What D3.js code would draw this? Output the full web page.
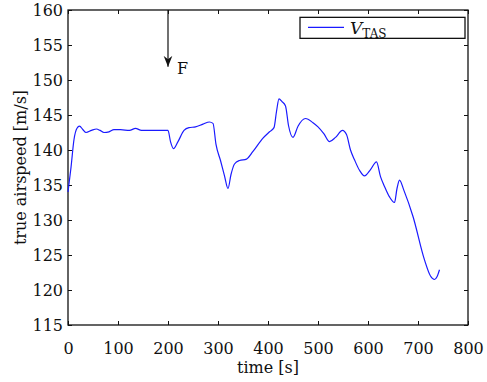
<!DOCTYPE html>
<html>
<head>
<meta charset="utf-8">
<script src="https://cdn.jsdelivr.net/npm/d3@7"></script>
<style>
  body { margin: 0; background: #fff; }
  text { font-family: 'DejaVu Serif', serif; fill: #111; }
</style>
</head>
<body>
<svg width="487" height="382"></svg>
<script>
// time [s] and true airspeed [m/s]
const times = [0, 6, 12, 18, 23, 30, 36, 47, 57, 64, 72, 82, 92, 105, 123, 135, 147, 165,
  200, 205, 211, 220, 232, 242, 255, 270, 283, 290, 296, 305, 313, 320, 326, 333, 343,
  357, 370, 390, 403, 412, 417, 422, 428, 435, 441, 450, 460, 475, 490, 500, 512, 523,
  535, 549, 557, 565, 573, 583, 593, 605, 617, 625, 633, 643, 653, 658, 663, 672, 690,
  713, 725, 733, 738, 743];
const vtas = [134.0, 137.5, 141.5, 143.1, 143.4, 142.9, 142.5, 142.8, 143.0, 142.8, 142.5,
  142.6, 142.9, 142.9, 142.8, 143.1, 142.8, 142.8, 142.8, 141.2, 140.2, 141.2, 142.8,
  143.2, 143.3, 143.7, 144.0, 143.8, 140.8, 138.5, 136.3, 134.5, 136.5, 138.0, 138.5,
  138.7, 139.8, 141.7, 142.6, 143.2, 145.5, 147.3, 146.9, 146.3, 143.5, 141.8, 143.4,
  144.5, 143.9, 143.3, 142.3, 141.2, 141.8, 142.8, 142.2, 140.0, 138.6, 137.1, 136.3,
  137.2, 138.3, 136.2, 134.8, 133.3, 132.5, 134.5, 135.7, 134.2, 130.5, 124.3, 122.0,
  121.5, 121.9, 122.9];
const xTicks = [0, 100, 200, 300, 400, 500, 600, 700, 800];
const yTicks = [115, 120, 125, 130, 135, 140, 145, 150, 155, 160];
const eventTime = 200;
const eventLabel = 'F';

const svg = d3.select('svg');
const margin = { top: 10, right: 19, bottom: 57, left: 68 };
const W = 487 - margin.left - margin.right,
  H = 382 - margin.top - margin.bottom;

const x = d3.scaleLinear().domain([0, 800]).range([0, W]);
const y = d3.scaleLinear().domain([115, 160]).range([H, 0]);

const g = svg.append('g').attr('transform', `translate(${margin.left},${margin.top})`);

// box with inward ticks on all sides
function styleAxis(sel) {
  sel.select('.domain').remove();
  sel.selectAll('line').attr('stroke', '#111');
  sel.selectAll('text').style('font-size', '16px').attr('fill', '#111');
}
g.append('g').attr('transform', `translate(0,${H})`)
  .call(d3.axisBottom(x).tickValues(xTicks).tickSize(-4).tickPadding(18))
  .call(styleAxis);
g.append('g')
  .call(d3.axisLeft(y).tickValues(yTicks).tickSize(-4).tickPadding(5))
  .call(styleAxis);
g.append('g')
  .call(d3.axisTop(x).tickValues(xTicks).tickSize(-4).tickFormat(''))
  .call(styleAxis);
g.append('g').attr('transform', `translate(${W},0)`)
  .call(d3.axisRight(y).tickValues(yTicks).tickSize(-4).tickFormat(''))
  .call(styleAxis);
g.append('rect').attr('width', W).attr('height', H)
  .attr('fill', 'none').attr('stroke', '#111').attr('stroke-width', 1.3);

// the curve
const data = times.map((t, i) => ({ t: t, v: vtas[i] }));
g.append('path').datum(data)
  .attr('fill', 'none').attr('stroke', '#1a1aff').attr('stroke-width', 1.2)
  .attr('d', d3.line().x(d => x(d.t)).y(d => y(d.v)).curve(d3.curveMonotoneX));

// event arrow
svg.append('defs').append('marker').attr('id', 'arr')
  .attr('viewBox', '0 0 10 10').attr('refX', 10).attr('refY', 5)
  .attr('markerWidth', 9).attr('markerHeight', 9).attr('orient', 'auto')
  .append('path').attr('d', 'M0,1 L10,5 L0,9 L3,5 Z').attr('fill', '#111');
g.append('line').attr('x1', x(eventTime)).attr('x2', x(eventTime))
  .attr('y1', 0).attr('y2', y(151.9))
  .attr('stroke', '#111').attr('stroke-width', 1.2).attr('marker-end', 'url(#arr)');
g.append('text').attr('x', x(eventTime) + 9).attr('y', y(150.9))
  .style('font-size', '16px').text(eventLabel);

// legend
const lg = g.append('g').attr('transform', `translate(${x(794) - 165},${y(158.95)})`);
lg.append('rect').attr('width', 165).attr('height', 21)
  .attr('fill', '#fff').attr('stroke', '#111').attr('stroke-width', 1.3);
lg.append('line').attr('x1', 8).attr('x2', 44).attr('y1', 10).attr('y2', 10)
  .attr('stroke', '#1a1aff').attr('stroke-width', 1.2);
const lt = lg.append('text').attr('x', 50).attr('y', 17).style('font-size', '17px');
lt.append('tspan').style('font-style', 'italic').text('V');
lt.append('tspan').attr('dy', 4).style('font-size', '12px').text('TAS');

// axis labels
svg.append('text').attr('x', margin.left + W / 2).attr('y', 373)
  .attr('text-anchor', 'middle').style('font-size', '16px').text('time [s]');
svg.append('text').attr('transform', `translate(26,${margin.top + H / 2}) rotate(-90)`)
  .attr('text-anchor', 'middle').style('font-size', '16px').text('true airspeed [m/s]');
</script>
</body>
</html>
